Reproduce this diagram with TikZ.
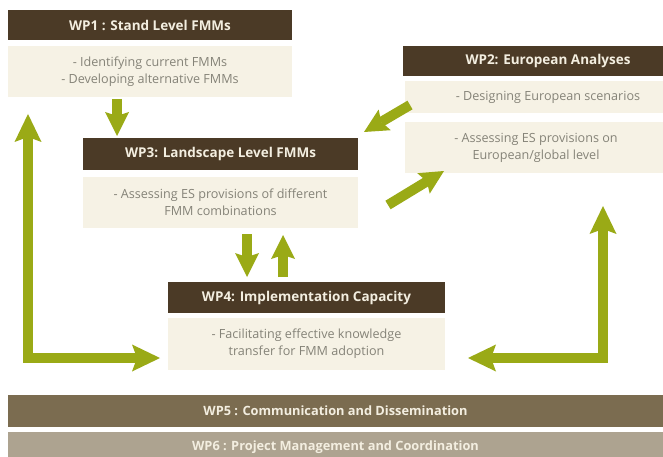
\documentclass[tikz,border=0pt]{standalone}
\usepackage{fontspec}
\setmainfont{Open Sans}
\usetikzlibrary{arrows.meta}
\definecolor{hdrbrown}{HTML}{4B3A26}
\definecolor{hdrtext}{HTML}{F3EEE0}
\definecolor{bodycream}{HTML}{F6F2E5}
\definecolor{bodytext}{HTML}{858378}
\definecolor{leaf}{HTML}{9AAA16}
\definecolor{wpfive}{HTML}{7B6C50}
\definecolor{wpsix}{HTML}{ADA390}
\tikzset{
  hdr/.style={fill=hdrbrown, text=hdrtext, inner sep=0pt, font=\bfseries\fontsize{13.5}{16}\selectfont},
  bodybox/.style={fill=bodycream, text=bodytext, inner sep=0pt, align=center, font=\fontsize{12.6}{17}\selectfont},
  band/.style={inner sep=0pt, text=hdrtext, font=\bfseries\fontsize{12.8}{15}\selectfont},
  lbl/.style={inner sep=0pt, text=bodytext, align=center, font=\fontsize{12.6}{17}\selectfont},
  bigarrow/.style={draw=leaf, line width=10pt, {Stealth[length=28pt,width=27pt,inset=5pt,line width=0pt]}-{Stealth[length=28pt,width=27pt,inset=5pt,line width=0pt]}},
  smallarrow/.style={draw=leaf, line width=10pt, -{Stealth[length=24pt,width=24pt,inset=4pt,line width=0pt]}}
}
\begin{document}
\begin{tikzpicture}[x=1pt,y=-1pt]
\clip (0,0) rectangle (663,457);
\fill[white] (0,0) rectangle (663,457);
% WP1
\node[hdr, minimum width=284pt, minimum height=30pt] (wp1h) at (150,25) {WP1 : Stand Level FMMs};
\node[bodybox, minimum width=284pt, minimum height=51pt] (wp1b) at (150,72) {- Identifying current FMMs\\- Developing alternative FMMs};
% WP2
\node[hdr, minimum width=290pt, minimum height=30pt] (wp2h) at (548,61) {WP2: European Analyses};
\node[bodybox, minimum width=286pt, minimum height=32pt] (wp2a) at (548,97) {- Designing European scenarios};
\node[bodybox, minimum width=286pt, minimum height=51pt] (wp2b) at (548,147.5) {};
\node[lbl] (wp2bt) at (536,148) {- Assessing ES provisions on\\European/global level};
% WP3
\node[hdr, minimum width=275pt, minimum height=32pt] (wp3h) at (220.5,154) {WP3: Landscape Level FMMs};
\node[bodybox, minimum width=275pt, minimum height=51pt] (wp3b) at (220.5,202) {- Assessing ES provisions of different\\FMM combinations};
% WP4
\node[hdr, minimum width=277pt, minimum height=31pt] (wp4h) at (306.5,297.5) {WP4: Implementation Capacity};
\node[bodybox, minimum width=277pt, minimum height=52pt] (wp4b) at (306.5,344) {- Facilitating effective knowledge\\transfer for FMM adoption};
% WP5, WP6
\node[band, fill=wpfive, minimum width=655pt, minimum height=32pt] (wp5) at (335.5,411) {WP5 : Communication and Dissemination};
\node[band, fill=wpsix, minimum width=655pt, minimum height=30pt] (wp6) at (335.5,447) {WP6 : Project Management and Coordination};
% arrow end points
\coordinate (a1s) at (117,99);
\coordinate (a1e) at (117,136);
\coordinate (a2s) at (410,105);
\coordinate (a2e) at (364,132);
\coordinate (a3s) at (388,205);
\coordinate (a3e) at (444,171);
\coordinate (a4s) at (247,234);
\coordinate (a4e) at (247,277);
\coordinate (a5s) at (283,277);
\coordinate (a5e) at (283,235);
\coordinate (lt) at (28,114);
\coordinate (lc) at (28,358);
\coordinate (lr) at (160,358);
\coordinate (rt) at (603,206);
\coordinate (rc) at (603,358);
\coordinate (rl) at (468,358);
% arrows
\draw[smallarrow] (a1s) -- (a1e);
\draw[smallarrow] (a2s) -- (a2e);
\draw[smallarrow] (a3s) -- (a3e);
\draw[smallarrow] (a4s) -- (a4e);
\draw[smallarrow] (a5s) -- (a5e);
\draw[bigarrow] (lt) -- (lc) -- (lr);
\draw[bigarrow] (rt) -- (rc) -- (rl);
\end{tikzpicture}
\end{document}
